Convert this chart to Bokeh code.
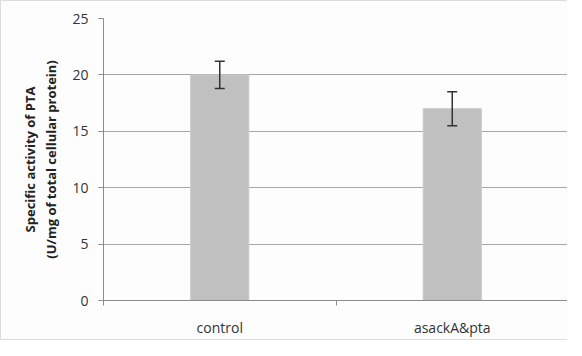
from bokeh.plotting import figure
from bokeh.models import FixedTicker, Range1d, Whisker, ColumnDataSource
from bokeh.embed import file_html
from bokeh.resources import INLINE

categories = ["control", "asackA&pta"]
values = [20.0, 17.0]
errors = [1.2, 1.5]
y_ticks = [0, 5, 10, 15, 20, 25]

xs = [i + 0.5 for i in range(len(categories))]
upper = [v + e for v, e in zip(values, errors)]
lower = [v - e for v, e in zip(values, errors)]
src = ColumnDataSource(dict(x=xs, top=values, upper=upper, lower=lower))

p = figure(width=567, height=340, output_backend="svg", toolbar_location=None,
           x_range=Range1d(0, len(categories)), y_range=Range1d(0, 25),
           min_border_left=102, min_border_top=17, min_border_bottom=41,
           min_border_right=0)
p.styles = {"border-left": "1px solid #dcdcdc", "border-top": "1px solid #dcdcdc",
            "border-bottom": "1px solid #dcdcdc"}
p.outline_line_color = None
p.background_fill_color = "#fdfdfd"
p.border_fill_color = "#fdfdfd"

p.vbar(x="x", top="top", width=0.25, bottom=0, source=src,
       fill_color="#c0c0c0", line_color="#cacaca", line_width=1)
w = Whisker(base="x", upper="upper", lower="lower", source=src,
            line_color="#333333", line_width=1.5, level="overlay")
w.upper_head.size = 10
w.lower_head.size = 10
w.upper_head.line_color = "#333333"
w.lower_head.line_color = "#333333"
w.upper_head.line_width = 1.5
w.lower_head.line_width = 1.5
p.add_layout(w)

p.xgrid.visible = False
p.ygrid.ticker = FixedTicker(ticks=y_ticks)
p.ygrid.grid_line_color = "#a6a6a6"
p.ygrid.grid_line_width = 1

p.yaxis.ticker = FixedTicker(ticks=y_ticks)
p.yaxis.axis_line_color = "#8c8c8c"
p.yaxis.major_tick_line_color = "#8c8c8c"
p.yaxis.major_tick_out = 5
p.yaxis.major_tick_in = 0
p.yaxis.minor_tick_line_color = None
p.yaxis.major_label_standoff = 10
p.yaxis.major_label_text_font = "Open Sans"
p.yaxis.major_label_text_font_size = "14px"
p.yaxis.major_label_text_color = "#333333"
p.yaxis.axis_label = "Specific activity of PTA\n(U/mg of total cellular protein)"
p.yaxis.axis_label_text_font = "Open Sans"
p.yaxis.axis_label_text_font_style = "bold"
p.yaxis.axis_label_text_font_size = "13px"
p.yaxis.axis_label_text_color = "#222222"
p.yaxis.axis_label_standoff = 9

p.xaxis.ticker = FixedTicker(ticks=xs, minor_ticks=list(range(len(categories) + 1)))
p.xaxis.major_label_overrides = {x: c for x, c in zip(xs, categories)}
p.xaxis.axis_line_color = "#8c8c8c"
p.xaxis.major_tick_out = 0
p.xaxis.major_tick_in = 0
p.xaxis.minor_tick_out = 5
p.xaxis.minor_tick_in = 0
p.xaxis.minor_tick_line_color = "#8c8c8c"
p.xaxis.major_label_standoff = 12
p.xaxis.major_label_text_font = "Open Sans"
p.xaxis.major_label_text_font_size = "14px"
p.xaxis.major_label_text_color = "#333333"

open("out.html", "w").write(file_html(p, INLINE))
